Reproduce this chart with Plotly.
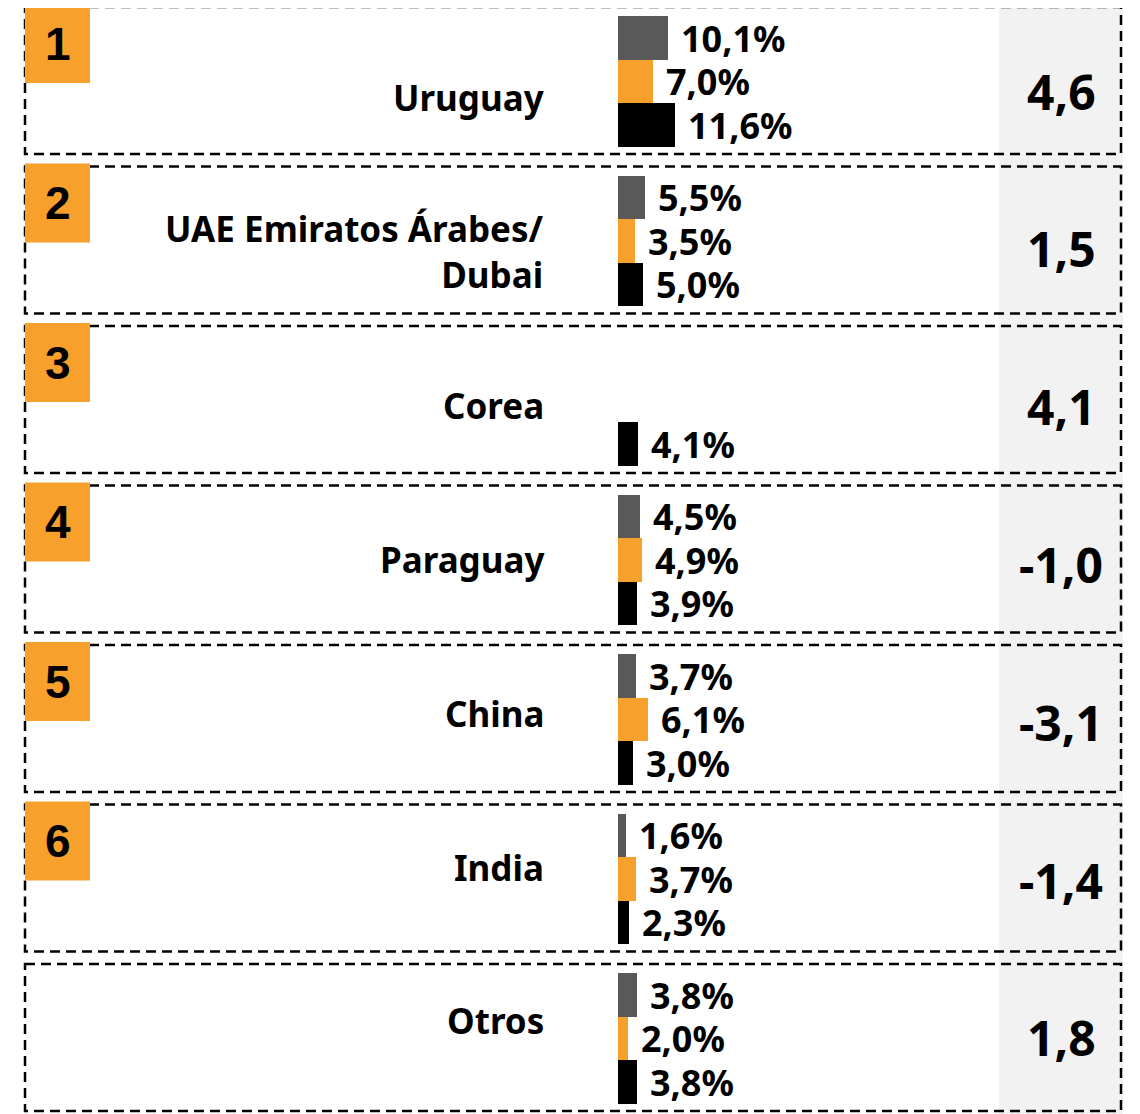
import plotly.graph_objects as go

# ---------------- data ----------------
paises = ["Uruguay", "UAE Emiratos Árabes/<br>Dubai", "Corea", "Paraguay", "China", "India", "Otros"]
ranking = ["1", "2", "3", "4", "5", "6", ""]
serie_gris = [10.1, 5.5, None, 4.5, 3.7, 1.6, 3.8]
serie_naranja = [7.0, 3.5, None, 4.9, 6.1, 3.7, 2.0]
serie_negra = [11.6, 5.0, 4.1, 3.9, 3.0, 2.3, 3.8]
variacion = [4.6, 1.5, 4.1, -1.0, -3.1, -1.4, 1.8]

# ---------------- layout constants (reference pixels) ----------------
PAGE_W, PAGE_H = 1140, 1114
OFF = 8                      # default body margin of the html page
W, H = PAGE_W - OFF, PAGE_H - OFF
PITCH = 159.5
ROW0 = 80.5
BOX_H = 147.0
BAR_H = 43.5
BAR_X0 = 618.0
PX_PER_PCT = 4.95

GRIS = "#595959"
NARANJA = "#F8A02C"
NEGRO = "#000000"
PANEL = "#F2F2F2"
FONT = "Noto Sans"


def u(p):
    """page pixel (from top) -> row units on the y axis"""
    return (p - ROW0) / PITCH


def px(x):
    return (x - OFF) / W


def py(y):
    return 1 - (y - OFF) / H


def fmt(v, dec=1, pct=False):
    s = f"{v:.{dec}f}".replace(".", ",")
    return s + ("%" if pct else "")


n = len(paises)
bar_u = BAR_H / PITCH
off = 1.0 / PITCH

fig = go.Figure()
series = [(serie_gris, GRIS, -1), (serie_naranja, NARANJA, 0), (serie_negra, NEGRO, 1)]
for vals, col, k in series:
    ys = [r + k * bar_u + off for r in range(n)]
    fig.add_trace(go.Bar(
        x=vals, y=ys, orientation="h", width=bar_u,
        marker=dict(color=col, line=dict(width=0)),
        hoverinfo="skip", showlegend=False,
    ))

shapes = []
shapes.append(dict(type="rect", xref="paper", yref="paper",
                   x0=px(999), x1=px(1123), y0=py(7), y1=py(PAGE_H),
                   fillcolor=PANEL, line=dict(width=0), layer="below"))
for r in range(n):
    shapes.append(dict(type="rect", xref="paper", yref="y",
                       x0=px(25), x1=px(1121),
                       y0=r - (BOX_H / 2) / PITCH, y1=r + (BOX_H / 2) / PITCH,
                       line=dict(color="black", width=2.5, dash="10px,6px"),
                       fillcolor="rgba(0,0,0,0)", layer="below"))
for r in range(n):
    if ranking[r]:
        top = ROW0 + r * PITCH - BOX_H / 2 - 3
        shapes.append(dict(type="rect", xref="paper", yref="y",
                           x0=px(25), x1=px(90), y0=u(top), y1=u(top + 79),
                           fillcolor=NARANJA, line=dict(width=0), layer="above"))

ann = []
for r in range(n):
    if ranking[r]:
        cy = ROW0 + r * PITCH - BOX_H / 2 - 3 + 39.5
        ann.append(dict(text=ranking[r], xref="paper", yref="paper",
                        x=px(58), y=py(cy), xanchor="center", yanchor="middle",
                        showarrow=False,
                        font=dict(family="Liberation Sans", size=46, color="black", weight=700)))
    ny = 98 + 153.8 * r
    ann.append(dict(text=paises[r], xref="paper", yref="paper",
                    x=px(546), y=py(ny), xanchor="right", yanchor="middle",
                    align="right", showarrow=False,
                    font=dict(family=FONT, size=35, color="black", weight=700)))
    vy = 91 + 157.8 * r
    ann.append(dict(text=fmt(variacion[r]), xref="paper", yref="paper",
                    x=px(1061), y=py(vy), xanchor="center", yanchor="middle",
                    showarrow=False,
                    font=dict(family=FONT, size=48, color="black", weight=700)))
    for vals, col, k in series:
        v = vals[r]
        if v is None:
            continue
        ann.append(dict(text=fmt(v, pct=True), xref="x", yref="y",
                        x=v, y=r + k * bar_u + off, xanchor="left", yanchor="middle",
                        xshift=11, showarrow=False,
                        font=dict(family=FONT, size=36, color="black", weight=700)))

fig.update_layout(
    width=W, height=H,
    margin=dict(l=0, r=0, t=0, b=0),
    paper_bgcolor="white", plot_bgcolor="rgba(0,0,0,0)",
    barmode="overlay", bargap=0,
    shapes=shapes, annotations=ann,
    xaxis=dict(domain=[px(BAR_X0), px(BAR_X0 + PX_PER_PCT * 100)], range=[0, 100],
               visible=False, fixedrange=True),
    yaxis=dict(range=[u(PAGE_H), u(OFF)], visible=False, fixedrange=True),
)

fig.write_html("out.html")
